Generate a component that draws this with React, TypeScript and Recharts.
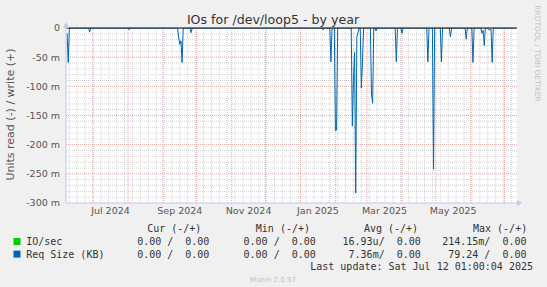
import React from "react";
import { ComposedChart, Line, XAxis, YAxis, ReferenceLine, CartesianGrid } from "recharts";

// daily "read" values for Req Size, in milli-units (negative side of the graph)
const readDates = [
  "2024-06-08", "2024-06-09", "2024-06-10",
  "2024-06-27", "2024-06-28", "2024-06-29",
  "2024-08-01", "2024-08-02", "2024-08-03",
  "2024-09-14", "2024-09-15", "2024-09-16", "2024-09-17", "2024-09-18", "2024-09-19",
  "2024-09-25", "2024-09-26", "2024-09-27",
  "2025-01-20", "2025-01-21", "2025-01-22",
  "2025-01-27", "2025-01-28", "2025-01-29",
  "2025-01-31", "2025-02-01", "2025-02-02", "2025-02-03",
  "2025-02-15", "2025-02-16", "2025-02-17", "2025-02-18", "2025-02-19", "2025-02-20",
  "2025-02-21", "2025-02-22", "2025-02-23", "2025-02-24", "2025-02-25", "2025-02-26",
  "2025-03-04", "2025-03-05", "2025-03-06", "2025-03-07",
  "2025-03-08", "2025-03-09", "2025-03-10",
  "2025-03-26", "2025-03-27", "2025-03-28",
  "2025-03-31", "2025-04-01", "2025-04-02",
  "2025-04-23", "2025-04-24", "2025-04-25",
  "2025-04-28", "2025-04-29", "2025-04-30",
  "2025-05-05", "2025-05-06", "2025-05-07",
  "2025-05-13", "2025-05-14", "2025-05-15",
  "2025-05-27", "2025-05-28", "2025-05-29",
  "2025-06-02", "2025-06-03", "2025-06-04",
  "2025-06-10", "2025-06-11", "2025-06-12", "2025-06-13", "2025-06-14",
  "2025-06-16", "2025-06-17", "2025-06-18", "2025-06-19", "2025-06-20", "2025-06-21",
  "2025-07-11",
];
const readValues = [
  -9, -59, 0,
  0, -7, 0,
  0, -3, 0,
  0, -16, -28, -22, -59, 0,
  0, -8, 0,
  0, -3, 0,
  0, -58, 0,
  0, -176, -175, 0,
  0, -168, -90, -42, -283, -15,
  -8, 0, 0, -103, -58, 0,
  0, -113, -129, 0,
  0, -5, 0,
  0, -58, 0,
  0, -9, 0,
  0, -58, 0,
  0, -242, 0,
  0, -58, 0,
  0, -15, 0,
  0, -19, 0,
  0, -59, 0,
  0, -9, -4, -30, 0,
  0, -3, -3, -2, -59, 0,
  0,
];

const yTicks = [0, -50, -100, -150, -200, -250, -300];
const labelMonths = ["2024-07", "2024-09", "2024-11", "2025-01", "2025-03", "2025-05"];
const labelTexts = ["Jul 2024", "Sep 2024", "Nov 2024", "Jan 2025", "Mar 2025", "May 2025"];

const legendRows = [
  { name: "IO/sec", color: "#00cc00", cur: "0.00 /  0.00", min: "0.00 /  0.00", avg: "16.93u/  0.00", max: "214.15m/  0.00" },
  { name: "Req Size (KB)", color: "#0066b3", cur: "0.00 /  0.00", min: "0.00 /  0.00", avg: "7.36m/  0.00", max: "79.24 /  0.00" },
];

const DAY = 86400000;
const START = Date.parse("2024-06-07T01:00:00Z");
const END = Date.parse("2025-07-12T01:00:00Z");
const day = (s: string) => Date.parse(s + "T00:00:00Z");

const data = readDates.map((d, i) => ({ t: day(d), read: readValues[i] }));

const monthStart = (ym: string) => day(ym + "-01");
const nextMonth = (ym: string) => {
  const [y, m] = ym.split("-").map(Number);
  return m === 12 ? `${y + 1}-01` : `${y}-${String(m + 1).padStart(2, "0")}`;
};
const xTicks = labelMonths.map((ym) => (monthStart(ym) + monthStart(nextMonth(ym))) / 2);
const tickLabel = (v: number) => labelTexts[xTicks.indexOf(v)] ?? "";

// grid: month starts (major), mondays (minor)
const majorX: number[] = [];
for (let ym = "2024-07"; monthStart(ym) < END; ym = nextMonth(ym)) majorX.push(monthStart(ym));
const minorX: number[] = [];
for (let t = day("2024-06-10"); t < END; t += 7 * DAY) minorX.push(t);
const minorY: number[] = [];
for (let v = -10; v > -300; v -= 10) if (v % 50 !== 0) minorY.push(v);
const majorY = [-50, -100, -150, -200, -250];

const AXIS = "#c6c6f0";
const FONT = "'DejaVu Sans', sans-serif";
const MONO = "'DejaVu Sans Mono', monospace";

const App = () => {
  return (
    <div style={{ position: "absolute", left: 0, top: 0, width: 547, height: 287, background: "#f0f0f0", overflow: "hidden" }}>
      <ComposedChart
        width={547}
        height={287}
        data={data}
        margin={{ top: 28, right: 30, bottom: 64, left: 0 }}
      >
        <CartesianGrid fill="#ffffff" horizontal={false} vertical={false} />
        {minorX.map((x) => (
          <ReferenceLine key={"mx" + x} x={x} stroke="#d4d4d4" strokeDasharray="1 1" />
        ))}
        {minorY.map((y) => (
          <ReferenceLine key={"my" + y} y={y} stroke="#d4d4d4" strokeDasharray="1 1" />
        ))}
        {majorX.map((x) => (
          <ReferenceLine key={"Mx" + x} x={x} stroke="#e8a4a4" strokeDasharray="1 1" />
        ))}
        {majorY.map((y) => (
          <ReferenceLine key={"My" + y} y={y} stroke="#e8a4a4" strokeDasharray="1 1" />
        ))}
        <XAxis
          dataKey="t"
          type="number"
          domain={[START, END]}
          ticks={xTicks}
          tickFormatter={tickLabel}
          height={20}
          tickSize={0}
          tickMargin={4}
          stroke={AXIS}
          tick={{ fill: "#555", fontSize: 9.5, fontFamily: FONT }}
          interval={0}
          allowDataOverflow
        />
        <YAxis
          type="number"
          domain={[-300, 0]}
          ticks={yTicks}
          tickFormatter={(v: number) => (v === 0 ? "0" : `${v} m`)}
          width={66}
          tickSize={0}
          tickMargin={6}
          stroke={AXIS}
          tick={{ fill: "#555", fontSize: 9.5, fontFamily: FONT }}
          interval={0}
          allowDataOverflow
        />
        <Line
          type="linear"
          dataKey="read"
          stroke="#0066b3"
          strokeWidth={1}
          dot={false}
          isAnimationActive={false}
        />
        <ReferenceLine y={0} stroke="#000000" strokeWidth={1} />
      </ComposedChart>

      <svg width={547} height={287} style={{ position: "absolute", left: 0, top: 0, pointerEvents: "none" }}>
        {/* axis arrows */}
        <polygon points="517,200 522,203 517,206" fill={AXIS} />
        <polygon points="63,28 66,22 69,28" fill={AXIS} />
        <text x={273} y={23.5} textAnchor="middle" fontFamily={FONT} fontSize={12.6} fill="#333">
          IOs for /dev/loop5 - by year
        </text>
        <text
          transform="translate(14,114.5) rotate(-90)"
          textAnchor="middle"
          fontFamily={FONT}
          fontSize={11}
          fill="#555"
        >
          Units read (-) / write (+)
        </text>
        <text
          transform="translate(535,53.5) rotate(90)"
          textAnchor="middle"
          fontFamily={FONT}
          fontSize={7.5}
          fill="#c4c4c4"
        >
          RRDTOOL / TOBI OETIKER
        </text>
        <g fontFamily={MONO} fontSize={10} fill="#333" style={{ whiteSpace: "pre" }}>
          <text x={147.2} y={228.6} dominantBaseline="central">Cur (-/+)</text>
          <text x={255.8} y={228.6} dominantBaseline="central">Min (-/+)</text>
          <text x={363.9} y={228.6} dominantBaseline="central">Avg (-/+)</text>
          <text x={473} y={228.6} dominantBaseline="central">Max (-/+)</text>
          {legendRows.map((r, i) => {
            const y = 241.5 + i * 12.6;
            return (
              <g key={r.name}>
                <rect x={13.5} y={y - 3.5} width={7} height={7} fill={r.color} />
                <text x={26.2} y={y} dominantBaseline="central">{r.name}</text>
                <text x={209.4} y={y} textAnchor="end" dominantBaseline="central" xmlSpace="preserve">{r.cur}</text>
                <text x={315.8} y={y} textAnchor="end" dominantBaseline="central" xmlSpace="preserve">{r.min}</text>
                <text x={420.8} y={y} textAnchor="end" dominantBaseline="central" xmlSpace="preserve">{r.avg}</text>
                <text x={526.5} y={y} textAnchor="end" dominantBaseline="central" xmlSpace="preserve">{r.max}</text>
              </g>
            );
          })}
          <text x={533} y={266.3} textAnchor="end" dominantBaseline="central">
            Last update: Sat Jul 12 01:00:04 2025
          </text>
        </g>
        <text x={273} y={279.5} textAnchor="middle" dominantBaseline="central" fontFamily={FONT} fontSize={7} fill="#c0c0c0">
          Munin 2.0.57
        </text>
      </svg>
    </div>
  );
};

export default App;
